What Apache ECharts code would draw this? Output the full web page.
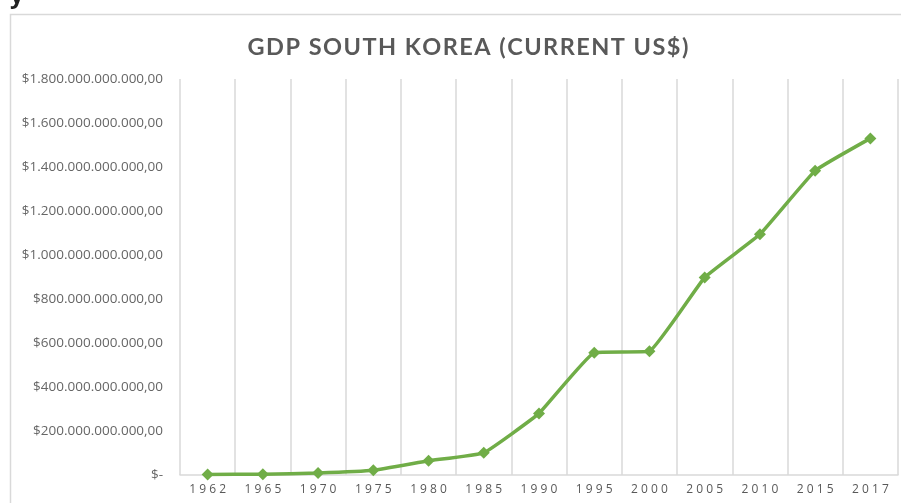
<!DOCTYPE html>
<html>
<head>
<meta charset="utf-8">
<script src="https://cdn.jsdelivr.net/npm/echarts@6/dist/echarts.min.js"></script>
<style>
  html, body { margin: 0; padding: 0; background: #fff; }
  #chart { width: 901px; height: 503px; }
</style>
</head>
<body>
<div id="chart"></div>
<script>
// year labels and GDP (current US$)
var years = ["1962", "1965", "1970", "1975", "1980", "1985", "1990", "1995", "2000", "2005", "2010", "2015", "2017"];
var gdp = [2.8e9, 3.1e9, 9.0e9, 21.5e9, 65e9, 101e9, 280e9, 556e9, 563e9, 898e9, 1094e9, 1383e9, 1530e9];
var yTicks = [0, 2e11, 4e11, 6e11, 8e11, 1e12, 1.2e12, 1.4e12, 1.6e12, 1.8e12];

function spaced(s, sep) {
  return s.split("").join(sep);
}

// 1800000000000 -> $1.800.000.000.000,00
function money(v) {
  if (v === 0) return "$-";
  var s = String(Math.round(v)).replace(/\B(?=(\d{3})+(?!\d))/g, ".");
  return "$" + s + ",00";
}

var myChart = echarts.init(document.getElementById("chart"));
var option = {
  backgroundColor: "#fff",
  animation: false,
  graphic: [
    {
      type: "rect",
      shape: { x: 10.5, y: 14.5, width: 900, height: 500 },
      style: { fill: "#fff", stroke: "#d9d9d9", lineWidth: 1.5 },
      z: -10
    },
    {
      type: "text",
      left: 10, top: -16,
      style: { text: "y", font: "bold 24px 'Open Sans'", fill: "#222" }
    }
  ],
  title: {
    text: spaced("GDP SOUTH KOREA (CURRENT US$)", "\u200A"),
    left: 463,
    textAlign: "center",
    top: 30,
    textStyle: {
      fontFamily: "Lato",
      fontSize: 23.5,
      fontWeight: "bold",
      color: "#595959"
    }
  },
  grid: {
    left: 180,
    right: 3,
    top: 79,
    bottom: 28,
    containLabel: false
  },
  xAxis: {
    type: "category",
    data: years,
    boundaryGap: true,
    axisLine: { show: true, lineStyle: { color: "#d9d9d9", width: 1.5 } },
    axisTick: { show: false },
    splitLine: { show: true, lineStyle: { color: "#d9d9d9", width: 1.5 } },
    axisLabel: {
      interval: 0,
      margin: 9,
      color: "#595959",
      fontFamily: "Open Sans",
      fontSize: 12,
      formatter: function (v) { return spaced(v, " "); }
    }
  },
  yAxis: {
    type: "value",
    min: 0,
    max: 1.8e12,
    interval: 2e11,
    axisLine: { show: false },
    axisTick: { show: false },
    splitLine: { show: false },
    axisLabel: {
      margin: 17,
      color: "#666",
      fontFamily: "Open Sans",
      fontSize: 13.5,
      formatter: function (v) { return money(v); }
    }
  },
  series: [
    {
      type: "line",
      name: "GDP",
      data: gdp,
      smooth: 0.1,
      symbol: "diamond",
      symbolSize: 12,
      lineStyle: { color: "#70ad47", width: 3.5 },
      itemStyle: { color: "#70ad47" }
    }
  ]
};
myChart.setOption(option);
</script>
</body>
</html>
